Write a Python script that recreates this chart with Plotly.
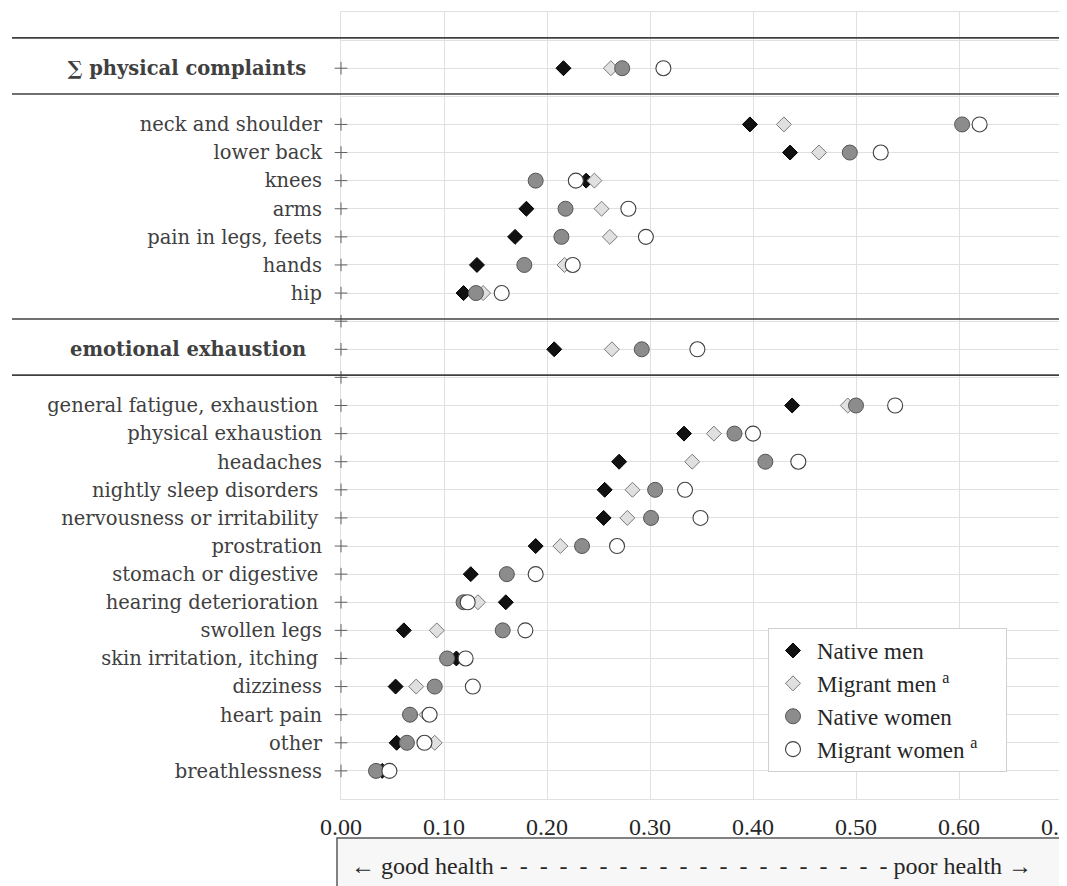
import plotly.graph_objects as go

# ---------------- data ----------------
categories = [
    "∑ physical complaints", "neck and shoulder", "lower back", "knees", "arms",
    "pain in legs, feets", "hands", "hip", "emotional exhaustion",
    "general fatigue, exhaustion", "physical exhaustion", "headaches",
    "nightly sleep disorders", "nervousness or irritability", "prostration",
    "stomach or digestive", "hearing deterioration", "swollen legs",
    "skin irritation, itching", "dizziness", "heart pain", "other", "breathlessness",
]
header_categories = ["∑ physical complaints", "emotional exhaustion"]

native_men = [0.216, 0.397, 0.436, 0.238, 0.180, 0.169, 0.132, 0.119, 0.207,
              0.438, 0.333, 0.270, 0.256, 0.255, 0.189, 0.126, 0.160, 0.061,
              0.112, 0.053, 0.067, 0.054, 0.040]
migrant_men = [0.262, 0.430, 0.464, 0.246, 0.253, 0.261, 0.217, 0.138, 0.263,
               0.492, 0.362, 0.341, 0.283, 0.278, 0.213, 0.161, 0.133, 0.093,
               0.103, 0.073, 0.083, 0.091, 0.047]
native_women = [0.273, 0.603, 0.494, 0.189, 0.218, 0.214, 0.178, 0.131, 0.292,
                0.500, 0.382, 0.412, 0.305, 0.301, 0.234, 0.161, 0.119, 0.157,
                0.103, 0.091, 0.067, 0.064, 0.034]
migrant_women = [0.313, 0.620, 0.524, 0.228, 0.279, 0.296, 0.225, 0.156, 0.346,
                 0.538, 0.400, 0.444, 0.334, 0.349, 0.268, 0.189, 0.123, 0.179,
                 0.121, 0.128, 0.086, 0.081, 0.047]

x_ticks = [0.0, 0.1, 0.2, 0.3, 0.4, 0.5, 0.6, 0.7]
x_ticklabels = ["0.00", "0.10", "0.20", "0.30", "0.40", "0.50", "0.60", "0.70"]

# row layout: None = spacer row, "sep" = row carrying a section separator line
row_layout = [None, "sep", categories[0], "sep"] + categories[1:8] + ["sep", categories[8], "sep"] \
    + categories[9:] + [None]

trailing_thin = {"general fatigue, exhaustion", "nightly sleep disorders",
                 "nervousness or irritability", "stomach or digestive",
                 "hearing deterioration", "skin irritation, itching"}

# ---------------- derived positions ----------------
row_of = {name: i for i, name in enumerate(row_layout) if name not in (None, "sep")}
yvals = [row_of[c] for c in categories]
sep_rows = [i for i, n in enumerate(row_layout) if n == "sep"]

ticktext = []
for n in row_layout:
    if n in (None, "sep"):
        ticktext.append(" ")
    elif n in header_categories:
        ticktext.append("<b>" + n + "</b>\u2002\u00a0")
    elif n in trailing_thin:
        ticktext.append(n + "\u2009")
    else:
        ticktext.append(n)

SERIF = "Liberation Serif, Times New Roman, serif"
LABEL_FONT = "DejaVu Serif, serif"

fig = go.Figure()

# cross tick marks on the category axis
cross_rows = [row_of[c] for c in categories] + [sep_rows[2], sep_rows[3]]
fig.add_trace(go.Scatter(
    x=[0] * len(cross_rows), y=cross_rows, mode="markers",
    marker=dict(symbol="cross-thin", size=9, line=dict(color="#606060", width=1)),
    showlegend=False, hoverinfo="skip", cliponaxis=False,
))

series = [
    ("Native men", native_men, "diamond", 11.5, "#111111", "#000000", 1),
    ("Migrant men <sup>a</sup>", migrant_men, "diamond", 11.5, "#e0e0e0", "#7a7a7a", 1),
    ("Native women", native_women, "circle", 15, "#8c8c8c", "#555555", 1),
    ("Migrant women <sup>a</sup>\u2003", migrant_women, "circle", 15, "#ffffff", "#404040", 1.1),
]
for name, vals, sym, size, fill, edge, lw in series:
    fig.add_trace(go.Scatter(
        x=vals, y=yvals, mode="markers", name=name,
        marker=dict(symbol=sym, size=size, color=fill, line=dict(color=edge, width=lw)),
    ))

# the page body has an 8px margin: work in page pixels, convert to figure pixels
OFF = 8
W, H = 1067 - OFF, 886 - OFF
L, R = 341 - OFF, W - (1062 - OFF)
T, B = 12 - OFF, H - (799 - OFF)
pw, ph = W - L - R, H - T - B

def px_x(px):
    return (px - OFF - L) / pw

def px_y(py):
    return (H - B - (py - OFF)) / ph

shapes = []
for r in sep_rows:
    shapes.append(dict(type="line", xref="paper", yref="y", x0=px_x(12), x1=1.0,
                       y0=r - 0.08, y1=r - 0.08, line=dict(color="#404040", width=1.6)))
shapes.append(dict(type="rect", xref="paper", yref="paper", x0=px_x(337), x1=1.0,
                   y0=px_y(838), y1=px_y(900), fillcolor="#f7f7f7",
                   line=dict(color="#5a5a5a", width=1.5), layer="above"))

dashes = "-\u00a0 " * 19 + "-"

fig.update_layout(
    width=W, height=H,
    margin=dict(l=L, r=R, t=T, b=B, autoexpand=False),
    paper_bgcolor="white", plot_bgcolor="white",
    showlegend=True,
    legend=dict(x=px_x(768), y=px_y(628), xanchor="left", yanchor="top",
                bgcolor="white", bordercolor="#d0d0d0", borderwidth=1,
                font=dict(family=SERIF, size=23, color="#262626"),
                tracegroupgap=0, itemwidth=38),
    shapes=shapes,
    annotations=[dict(
        xref="paper", yref="paper", x=px_x(691), y=px_y(866),
        text="← good health " + dashes + " poor health →",
        showarrow=False, font=dict(family=SERIF, size=24, color="#262626"),
        xanchor="center", yanchor="middle")],
)
fig.update_xaxes(
    range=[0, 0.7], tickvals=x_ticks, ticktext=x_ticklabels,
    showgrid=True, gridcolor="#e0e0e0", gridwidth=1,
    showline=True, linecolor="#e0e0e0", mirror=True, zeroline=False,
    ticks="", ticklabelstandoff=6, ticklabeloverflow="allow", automargin=False,
    layer="below traces",
    tickfont=dict(family=SERIF, size=24, color="#262626"),
)
fig.update_yaxes(
    range=[len(row_layout) - 1, 0], tickvals=list(range(len(row_layout))), ticktext=ticktext,
    showgrid=True, gridcolor="#e0e0e0", gridwidth=1,
    showline=True, linecolor="#e0e0e0", mirror=True, zeroline=False,
    ticks="", ticklabelstandoff=14, automargin=False, layer="below traces",
    tickfont=dict(family=LABEL_FONT, size=19.5, color="#404040"),
)

fig.write_html("out.html")
